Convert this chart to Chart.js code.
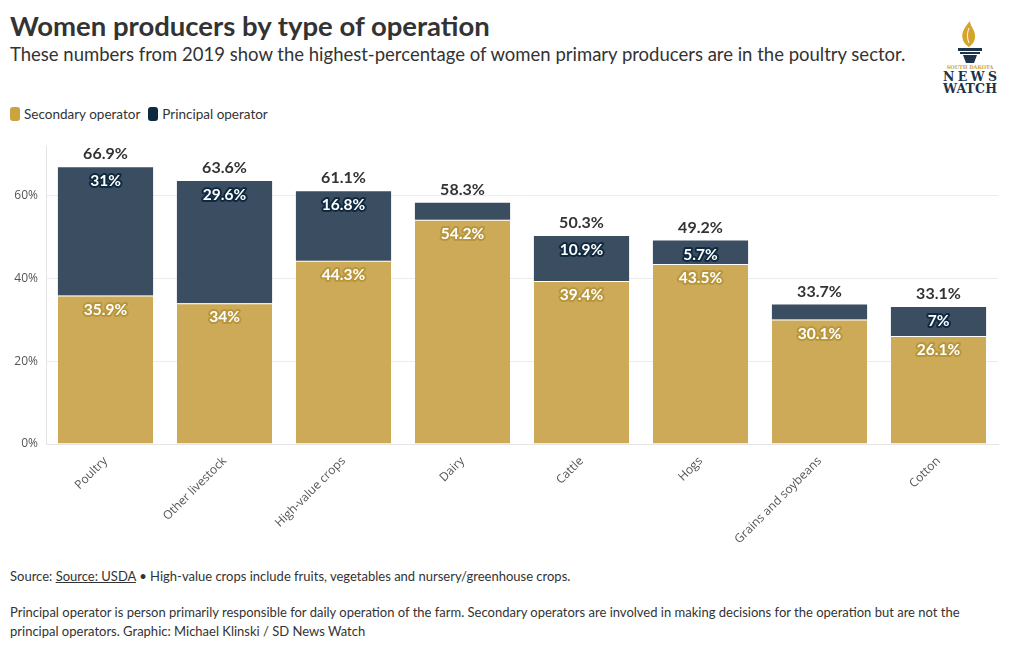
<!DOCTYPE html>
<html><head><meta charset="utf-8">
<script src="https://cdn.jsdelivr.net/npm/chart.js@4.4.1/dist/chart.umd.min.js"></script>
<style>
html,body{margin:0;padding:0;background:#fff;width:1020px;height:650px;overflow:hidden;font-family:Lato,"Noto Sans",sans-serif;color:#333}
#title{position:absolute;left:10px;top:9px;font-size:27.5px;font-weight:700;color:#333;white-space:nowrap}
#sub{position:absolute;left:10px;top:43px;font-size:18.5px;color:#333;white-space:nowrap}
#legend{position:absolute;left:10px;top:106px;font-size:13.5px;color:#333;display:flex;align-items:center}
.sw{display:inline-block;width:10px;height:14px;border-radius:3px;margin-right:4px}
.li{display:flex;align-items:center;margin-right:8px}
#wrap{position:absolute;left:0;top:131px;width:1020px;height:427px}
#foot1{position:absolute;left:10px;top:568px;font-size:13px;color:#333;white-space:nowrap}
#foot2{position:absolute;left:10px;top:603px;font-size:13px;color:#333;line-height:19px;width:990px}
#logo{position:absolute;left:936px;top:18px;width:68px;height:78px}
</style></head>
<body>
<div id="title">Women producers by type of operation</div>
<div id="sub">These numbers from 2019 show the highest-percentage of women primary producers are in the poultry sector.</div>
<div id="legend"><span class="li"><span class="sw" style="background:#c9a43f"></span>Secondary operator</span><span class="li"><span class="sw" style="background:#0f2a40"></span>Principal operator</span></div>
<div id="logo">
<svg width="68" height="78" viewBox="0 0 68 78">
<path d="M34 3 C27 11 25 16 27 22 C28 26 33 29 33 29 C39 25 41 18 37 11 C36 9 34 6 34 3Z" fill="#d4a52a"/>
<path d="M33 10 C31 15 31 20 33 25" stroke="#fff" stroke-width="1" fill="none"/>
<rect x="22" y="30" width="24" height="3" fill="#1d3349"/>
<rect x="24" y="34" width="20" height="2" fill="#1d3349"/>
<path d="M27 37 L41 37 L38 45 L30 45Z" fill="#1d3349"/>
<text x="34" y="51" font-family="DejaVu Serif" font-size="5" fill="#c9a43f" text-anchor="middle" font-weight="bold">SOUTH DAKOTA</text>
<text x="34" y="63" font-family="DejaVu Serif" font-size="12.5" fill="#1d3349" text-anchor="middle" font-weight="bold" textLength="54">NEWS</text>
<text x="34" y="75" font-family="DejaVu Serif" font-size="12.5" fill="#1d3349" text-anchor="middle" font-weight="bold" textLength="54">WATCH</text>
</svg></div>
<div id="wrap"><canvas id="c"></canvas></div>
<div id="foot1">Source: <u>Source: USDA</u> • High-value crops include fruits, vegetables and nursery/greenhouse crops.</div>
<div id="foot2">Principal operator is person primarily responsible for daily operation of the farm. Secondary operators are involved in making decisions for the operation but are not the principal operators. Graphic: Michael Klinski / SD News Watch</div>
<script>
const categories = ["Poultry","Other livestock","High-value crops","Dairy","Cattle","Hogs","Grains and soybeans","Cotton"];
const secondary = [35.9, 34, 44.3, 54.2, 39.4, 43.5, 30.1, 26.1];
const principal = [31, 29.6, 16.8, 4.1, 10.9, 5.7, 3.6, 7];
const totals = [66.9, 63.6, 61.1, 58.3, 50.3, 49.2, 33.7, 33.1];
const yTicks = [0, 20, 40, 60];

const GOLD = "#cdaa58", NAVY = "#3a4d61";

const labelPlugin = {
  id: "labels",
  afterDatasetsDraw(chart) {
    const ctx = chart.ctx;
    ctx.save();
    ctx.textAlign = "center";
    ctx.textBaseline = "middle";
    ctx.lineJoin = "round";
    chart.data.datasets.forEach((ds, di) => {
      const meta = chart.getDatasetMeta(di);
      meta.data.forEach((bar, i) => {
        const v = ds.data[i];
        if (v < 5) return;
        ctx.font = "bold 15.5px Lato, 'Noto Sans', sans-serif";
        const txt = (Math.round(v * 10) / 10) + "%";
        const y = bar.y + 14;
        ctx.lineWidth = 4;
        ctx.strokeStyle = di === 0 ? "#b8963c" : "#0f2a40";
        ctx.strokeText(txt, bar.x, y);
        ctx.fillStyle = "#fff";
        ctx.fillText(txt, bar.x, y);
      });
    });
    const top = chart.getDatasetMeta(1);
    ctx.font = "bold 16px Lato, 'Noto Sans', sans-serif";
    ctx.fillStyle = "#333";
    top.data.forEach((bar, i) => {
      const y = chart.scales.y.getPixelForValue(totals[i]);
      ctx.fillText(totals[i] + "%", bar.x, y - 13);
    });
    ctx.restore();
  }
};

new Chart(document.getElementById("c"), {
  type: "bar",
  data: {
    labels: categories,
    datasets: [
      { label: "Secondary operator", data: secondary, backgroundColor: GOLD, borderColor: "#fff", borderWidth: {top: 1}, borderSkipped: "bottom" },
      { label: "Principal operator", data: principal, backgroundColor: NAVY, borderColor: "#fff", borderWidth: 0 }
    ]
  },
  options: {
    responsive: true,
    maintainAspectRatio: false,
    animation: false,
    layout: { padding: { left: 0, right: 22, top: 2, bottom: 0 } },
    plugins: { legend: { display: false }, tooltip: { enabled: false } },
    datasets: { bar: { barPercentage: 0.8, categoryPercentage: 1.0 } },
    scales: {
      x: {
        stacked: true,
        grid: { display: false, drawTicks: true, tickLength: 6, color: "#e4e4e4" },
        border: { display: true, color: "#e4e4e4" },
        ticks: { maxRotation: 45, minRotation: 45, color: "#555", font: { family: "'Open Sans', 'Noto Sans', sans-serif", size: 12 }, padding: 4 },
        afterFit(s) { s.height = 114; }
      },
      y: {
        stacked: true,
        min: 0, max: 72,
        afterBuildTicks(s) { s.ticks = yTicks.map(v => ({ value: v })); },
        grid: { color: "#ececec", drawTicks: false },
        border: { display: true, color: "#e4e4e4" },
        ticks: { callback: v => v + "%", color: "#555", padding: 8, font: { family: "'Open Sans', 'Noto Sans', sans-serif", size: 12 } },
        afterFit(s) { s.width = 46; }
      }
    }
  },
  plugins: [labelPlugin]
});
</script>
</body></html>
